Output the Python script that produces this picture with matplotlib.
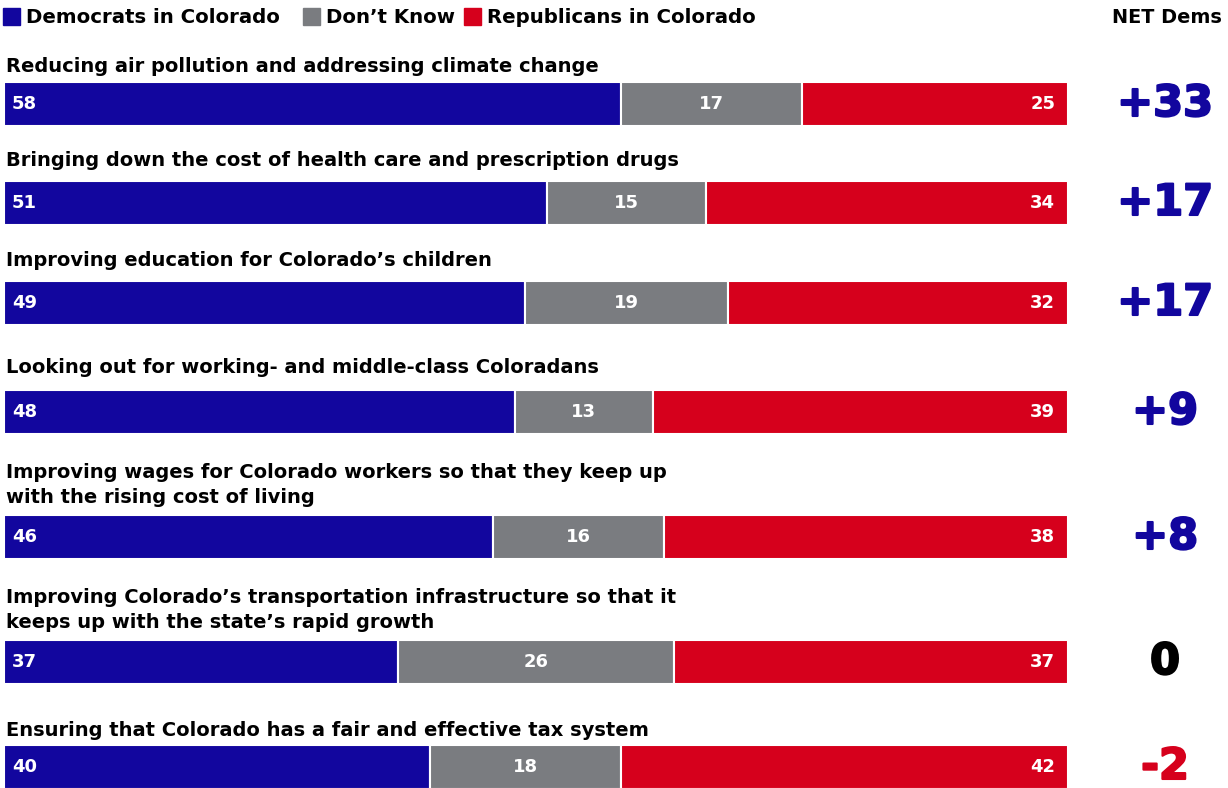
import matplotlib.pyplot as plt
import matplotlib.patheffects as pe

plt.rcParams["font.family"] = ["DejaVu Sans"]
plt.rcParams["font.weight"] = "bold"

issues = [
    "Reducing air pollution and addressing climate change",
    "Bringing down the cost of health care and prescription drugs",
    "Improving education for Colorado\u2019s children",
    "Looking out for working- and middle-class Coloradans",
    "Improving wages for Colorado workers so that they keep up\nwith the rising cost of living",
    "Improving Colorado\u2019s transportation infrastructure so that it\nkeeps up with the state\u2019s rapid growth",
    "Ensuring that Colorado has a fair and effective tax system",
]
dems = [58, 51, 49, 48, 46, 37, 40]
dont_know = [17, 15, 19, 13, 16, 26, 18]
reps = [25, 34, 32, 39, 38, 37, 42]
net_dems = [33, 17, 17, 9, 8, 0, -2]

BLUE = "#12069e"
GREY = "#7a7c80"
RED = "#d6001c"

W, H = 1228, 788
# bar centres and label rows in pixels
bar_y = [104, 203, 303, 412, 537, 662, 767]
label_y = [66, 160, 261, 367, 485, 610, 730]
bar_h = 44

fig = plt.figure(figsize=(W / 100, H / 100), dpi=100)

# bar axes: x in percent, y in pixels
ax = fig.add_axes([4 / W, 0, 1064 / W, 1])
ax.set_xlim(0, 100)
ax.set_ylim(H, 0)
ax.axis("off")

for i in range(len(issues)):
    y = bar_y[i]
    d, k, r = dems[i], dont_know[i], reps[i]
    ax.barh(y, d, height=bar_h, left=0, color=BLUE, edgecolor="white", linewidth=1.5)
    ax.barh(y, k, height=bar_h, left=d, color=GREY, edgecolor="white", linewidth=1.5)
    ax.barh(y, r, height=bar_h, left=d + k, color=RED, edgecolor="white", linewidth=1.5)
    ax.text(0.75, y, str(d), color="white", fontsize=13, ha="left", va="center")
    ax.text(d + k / 2, y, str(k), color="white", fontsize=13, ha="center", va="center")
    ax.text(100 - 1.2, y, str(r), color="white", fontsize=13, ha="right", va="center")

# overlay axes in pixel coordinates for text
ov = fig.add_axes([0, 0, 1, 1])
ov.set_xlim(0, W)
ov.set_ylim(H, 0)
ov.axis("off")

for i, label in enumerate(issues):
    ov.text(6, label_y[i], label, fontsize=14, ha="left", va="center",
            linespacing=1.35)
    n = net_dems[i]
    if n > 0:
        txt, col = "+%d" % n, BLUE
    elif n < 0:
        txt, col = "-%d" % abs(n), RED
    else:
        txt, col = "0", "black"
    ov.text(1165, bar_y[i], txt, color=col, fontsize=31, ha="center", va="center",
            path_effects=[pe.withStroke(linewidth=1.5, foreground=col)])

# legend
legend_items = [("Democrats in Colorado", BLUE, 3),
                ("Don\u2019t Know", GREY, 303),
                ("Republicans in Colorado", RED, 464)]
for name, col, x0 in legend_items:
    ov.add_patch(plt.Rectangle((x0, 8), 17, 17, color=col))
    ov.text(x0 + 23, 17, name, fontsize=14.2, ha="left", va="center")
ov.text(1222, 17, "NET Dems", fontsize=13.9, ha="right", va="center")

fig.savefig("out.png", dpi=100)
